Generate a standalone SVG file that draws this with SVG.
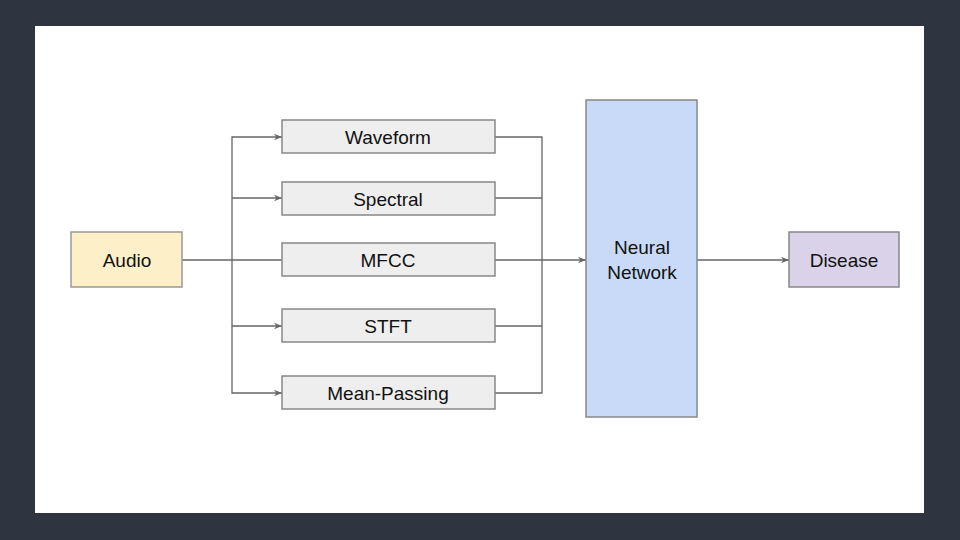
<svg xmlns="http://www.w3.org/2000/svg" width="960" height="540" viewBox="0 0 960 540">
<defs><marker id="a" viewBox="0 0 10 10" refX="10" refY="5" markerWidth="8" markerHeight="8" markerUnits="userSpaceOnUse" orient="auto"><path d="M0,1 L10,5 L0,9 L3,5 z" fill="#666"/></marker></defs>
<style>
text{font-family:"Liberation Sans",Arial,sans-serif;font-size:19px;fill:#111;text-anchor:middle;dominant-baseline:central}
.f{fill:#eeeeee;stroke:#888;stroke-width:1.5}
.c{fill:none;stroke:#666;stroke-width:1.3}
</style>
<rect width="960" height="540" fill="#2e3440"/>
<rect x="35" y="26" width="889" height="487" fill="#fff"/>
<g id="connectors" class="c">
<path d="M182,260 H586" marker-end="url(#a)"/>
<path d="M232,260 V137 H282" marker-end="url(#a)"/>
<path d="M232,198 H282" marker-end="url(#a)"/>
<path d="M232,260 V326 H282" marker-end="url(#a)"/>
<path d="M232,326 V393 H282" marker-end="url(#a)"/>
<path d="M495,137 H542 V393 H495"/>
<path d="M495,198 H542"/>
<path d="M495,326 H542"/>
<path d="M697,260 H789" marker-end="url(#a)"/>
</g>
<g id="audio"><rect x="71" y="232" width="111" height="55" fill="#fdf0c9" stroke="#999" stroke-width="1.5"/><text x="127" y="260">Audio</text></g>
<g id="waveform"><rect class="f" x="282" y="120" width="213" height="33"/><text x="388" y="137">Waveform</text></g>
<g id="spectral"><rect class="f" x="282" y="182" width="213" height="33"/><text x="388" y="199">Spectral</text></g>
<g id="mfcc"><rect class="f" x="282" y="243" width="213" height="33"/><text x="388" y="260">MFCC</text></g>
<g id="stft"><rect class="f" x="282" y="309" width="213" height="33"/><text x="388" y="326">STFT</text></g>
<g id="mean"><rect class="f" x="282" y="376" width="213" height="33"/><text x="388" y="393">Mean-Passing</text></g>
<g id="nn"><rect x="586" y="100" width="111" height="317" fill="#c9daf8" stroke="#888" stroke-width="1.5"/><text x="642" y="247">Neural</text><text x="642" y="272">Network</text></g>
<g id="disease"><rect x="789" y="232" width="110" height="55" fill="#d9d2e9" stroke="#888" stroke-width="1.5"/><text x="844" y="260">Disease</text></g>
</svg>
